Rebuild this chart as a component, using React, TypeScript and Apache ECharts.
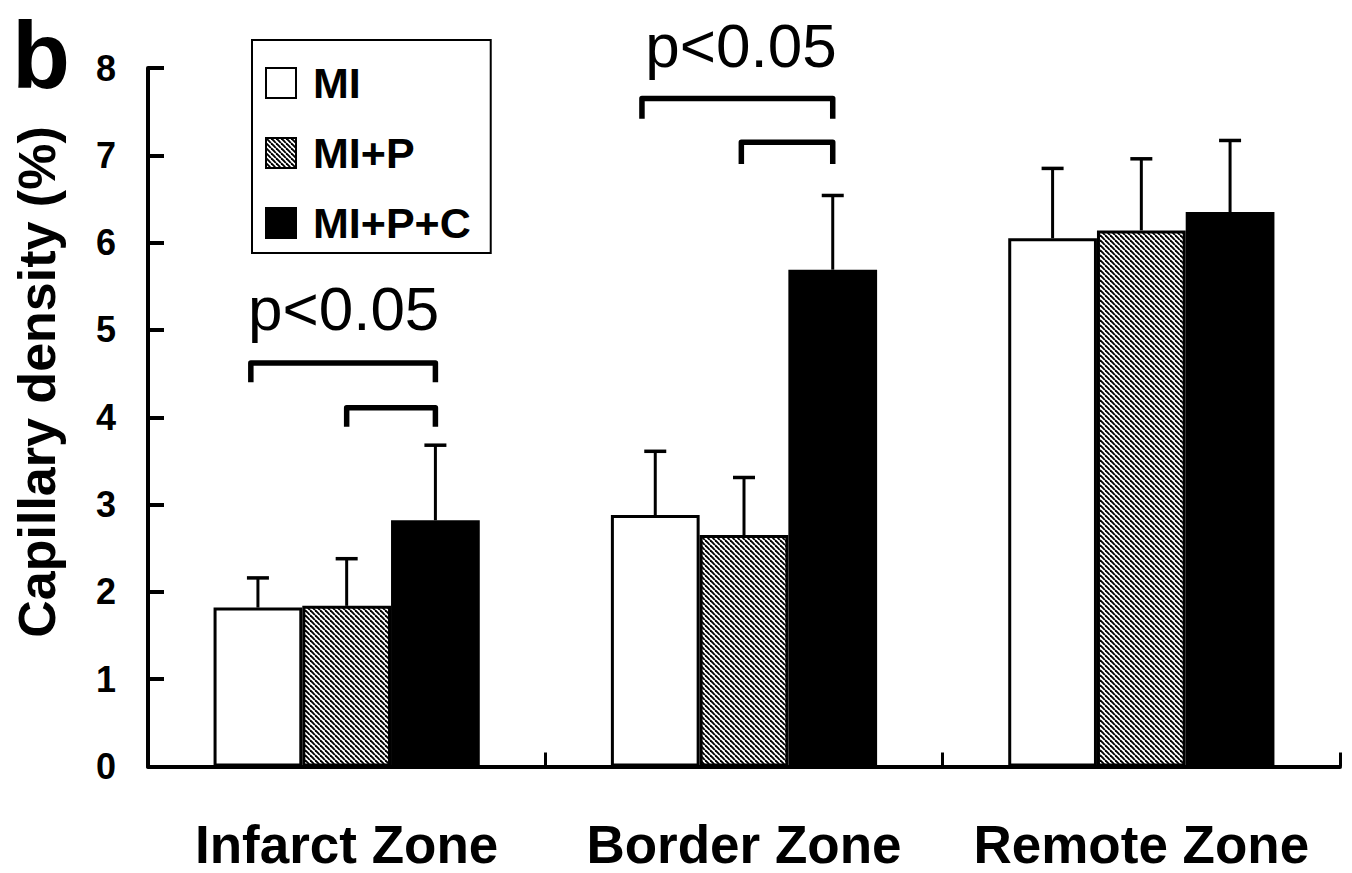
import React, { useEffect, useRef } from "react";
import * as echarts from "echarts";

// ---- Data ----
const categories = ["Infarct Zone", "Border Zone", "Remote Zone"];
const seriesNames = ["MI", "MI+P", "MI+P+C"];
const miMean = [1.82, 2.88, 6.05];
const miSD = [0.34, 0.73, 0.8];
const mipMean = [1.84, 2.65, 6.14];
const mipSD = [0.54, 0.66, 0.82];
const mipcMean = [2.82, 5.69, 6.35];
const mipcSD = [0.86, 0.85, 0.82];
const yMin = 0;
const yMax = 8;
const yInterval = 1;

// significance brackets (category index, from bar, to bar, line level, leg end level)
const bracketCat = [0, 0, 1, 1];
const bracketFrom = [-0.08, 1, -0.15, 0.97];
const bracketTo = [2, 2, 2, 2];
const bracketTop = [4.62, 4.11, 7.65, 7.15];
const bracketLeg = [4.4, 3.89, 7.42, 6.9];
// p-value labels (category index, level)
const pLabelCat = [0, 1];
const pLabelLevel = [5.25, 8.26];
const pLabelText = ["p<0.05", "p<0.05"];

const FONT = "'Liberation Sans', Arial, Helvetica, sans-serif";
const GROUP_FRAC = 0.67;

function makeHatch(): string {
  const s = 5;
  const c = document.createElement("canvas");
  c.width = s;
  c.height = s;
  const ctx = c.getContext("2d")!;
  ctx.fillStyle = "#fff";
  ctx.fillRect(0, 0, s, s);
  ctx.strokeStyle = "#000";
  ctx.lineWidth = 1.9;
  for (const o of [-s, 0, s]) {
    ctx.beginPath();
    ctx.moveTo(o, 0);
    ctx.lineTo(o + s, s);
    ctx.stroke();
  }
  return c.toDataURL();
}

export default function App() {
  const ref = useRef<HTMLDivElement>(null);

  useEffect(() => {
    if (!ref.current) return;
    const chart = echarts.init(ref.current, null, { renderer: "svg" });
    const hatch = {
      image: makeHatch(),
      repeat: "repeat",
      imageWidth: 5,
      imageHeight: 5,
    };

    const means = [miMean, mipMean, mipcMean];
    const sds = [miSD, mipSD, mipcSD];
    const errData: number[][] = [];
    means.forEach((m, si) =>
      m.forEach((v, ci) => errData.push([ci, v, sds[si][ci], si]))
    );
    const bracketData = bracketCat.map((c, i) => [
      c,
      bracketTop[i],
      bracketLeg[i],
      bracketFrom[i],
      bracketTo[i],
    ]);
    const pData = pLabelCat.map((c, i) => [c, pLabelLevel[i], i]);

    const barStyles = [
      { color: "#fff", borderColor: "#000", borderWidth: 3 },
      { color: hatch, borderColor: "#000", borderWidth: 3 },
      { color: "#000", borderColor: "#000", borderWidth: 3 },
    ];

    const option: any = {
      animation: false,
      backgroundColor: "#fff",
      grid: {
        left: 148,
        right: 12,
        top: 68,
        bottom: 106.5,
        containLabel: false,
        outerBoundsMode: "none",
      },
      legend: {
        data: seriesNames,
        orient: "vertical",
        left: 252,
        top: 40,
        padding: [21, 20, 8, 13],
        itemWidth: 30,
        itemHeight: 30,
        itemGap: 26,
        icon: "rect",
        borderColor: "#000",
        borderWidth: 2,
        selectedMode: false,
        itemStyle: { borderColor: "#000", borderWidth: 2 },
        textStyle: {
          fontFamily: FONT,
          fontWeight: "bold",
          fontSize: 43,
          color: "#000",
          lineHeight: 44,
          padding: [0, 0, 0, 12],
        },
      },
      xAxis: {
        type: "category",
        data: categories,
        axisLine: { show: true, lineStyle: { color: "#000", width: 4 } },
        axisTick: {
          show: true,
          inside: true,
          length: 14,
          lineStyle: { color: "#000", width: 3 },
        },
        axisLabel: {
          interval: 0,
          fontFamily: FONT,
          fontWeight: "bold",
          fontSize: 53,
          color: "#000",
          margin: 51,
          hideOverlap: false,
        },
        splitLine: { show: false },
      },
      yAxis: {
        type: "value",
        min: yMin,
        max: yMax,
        interval: yInterval,
        axisLine: { show: true, lineStyle: { color: "#000", width: 4 } },
        axisTick: {
          show: true,
          inside: true,
          length: 16,
          lineStyle: { color: "#000", width: 4 },
        },
        axisLabel: {
          fontFamily: FONT,
          fontWeight: "bold",
          fontSize: 36,
          color: "#000",
          margin: 32,
        },
        splitLine: { show: false },
      },
      graphic: [
        {
          type: "text",
          x: 12,
          y: 55,
          style: {
            text: "b",
            font: `bold 95px ${FONT}`,
            fill: "#000",
            align: "left",
            verticalAlign: "middle",
          },
        },
        {
          type: "text",
          x: 37,
          y: 382,
          rotation: Math.PI / 2,
          style: {
            text: "Capillary density (%)",
            font: `bold 52px ${FONT}`,
            fill: "#000",
            align: "center",
            verticalAlign: "middle",
          },
        },
      ],
      series: [
        ...seriesNames.map((name, si) => ({
          type: "bar",
          name,
          data: means[si],
          barGap: "0%",
          barCategoryGap: "33%",
          itemStyle: barStyles[si],
          emphasis: { disabled: true },
          z: 2,
        })),
        {
          type: "custom",
          name: "errors",
          silent: true,
          clip: false,
          z: 5,
          encode: { x: 0, y: 1 },
          data: errData,
          renderItem: (_p: any, api: any) => {
            const ci = api.value(0);
            const m = api.value(1);
            const sd = api.value(2);
            const si = api.value(3);
            const band = api.size([1, 0])[0];
            const bw = (band * GROUP_FRAC) / 3;
            const p0 = api.coord([ci, m]);
            const p1 = api.coord([ci, m + sd]);
            const x = p0[0] + (si - 1) * bw;
            return {
              type: "group",
              children: [
                {
                  type: "line",
                  shape: { x1: x, y1: p0[1], x2: x, y2: p1[1] },
                  style: { stroke: "#000", lineWidth: 3 },
                },
                {
                  type: "line",
                  shape: { x1: x - 11, y1: p1[1], x2: x + 11, y2: p1[1] },
                  style: { stroke: "#000", lineWidth: 3.5 },
                },
              ],
            };
          },
        },
        {
          type: "custom",
          name: "brackets",
          silent: true,
          clip: false,
          z: 5,
          encode: { x: 0, y: 1 },
          data: bracketData,
          renderItem: (_p: any, api: any) => {
            const ci = api.value(0);
            const top = api.value(1);
            const leg = api.value(2);
            const from = api.value(3);
            const to = api.value(4);
            const band = api.size([1, 0])[0];
            const bw = (band * GROUP_FRAC) / 3;
            const pt = api.coord([ci, top]);
            const pl = api.coord([ci, leg]);
            const xl = pt[0] + (from - 1) * bw;
            const xr = pt[0] + (to - 1) * bw;
            return {
              type: "polyline",
              shape: {
                points: [
                  [xl, pl[1]],
                  [xl, pt[1]],
                  [xr, pt[1]],
                  [xr, pl[1]],
                ],
              },
              style: {
                stroke: "#000",
                lineWidth: 5.5,
                fill: null,
                lineJoin: "round",
              },
            };
          },
        },
        {
          type: "custom",
          name: "pvalues",
          silent: true,
          clip: false,
          z: 5,
          encode: { x: 0, y: 1 },
          data: pData,
          renderItem: (_p: any, api: any) => {
            const ci = api.value(0);
            const lv = api.value(1);
            const idx = api.value(2);
            const pt = api.coord([ci, lv]);
            return {
              type: "text",
              x: pt[0] - 3,
              y: pt[1],
              style: {
                text: pLabelText[idx],
                font: `62px ${FONT}`,
                fill: "#000",
                align: "center",
                verticalAlign: "middle",
              },
            };
          },
        },
      ],
    };

    chart.setOption(option);
    return () => chart.dispose();
  }, []);

  return (
    <div
      ref={ref}
      style={{
        position: "fixed",
        left: 0,
        top: 0,
        width: 1352,
        height: 873,
        background: "#fff",
      }}
    />
  );
}
